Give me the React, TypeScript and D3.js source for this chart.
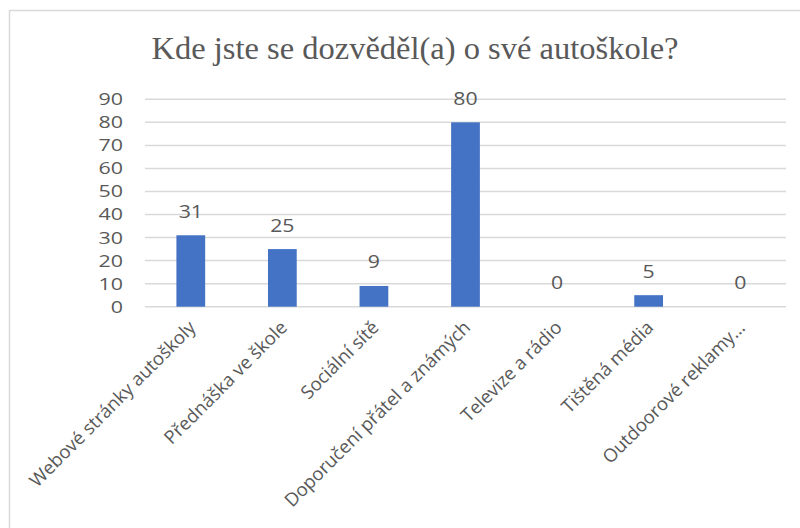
import React from "react";
import * as d3 from "d3";

const title = "Kde jste se dozvěděl(a) o své autoškole?";
const categories = [
  "Webové stránky autoškoly",
  "Přednáška ve škole",
  "Sociální sítě",
  "Doporučení přátel a známých",
  "Televize a rádio",
  "Tištěná média",
  "Outdoorové reklamy…",
];
const values = [31, 25, 9, 80, 0, 5, 0];
const yTicks = [0, 10, 20, 30, 40, 50, 60, 70, 80, 90];

const W = 800;
const H = 528;
const plotLeft = 145;
const plotRight = 786;
const plotTop = 99.3;
const plotBottom = 306.7;
const textColor = "#595959";
const gridColor = "#d9d9d9";
const barColor = "#4472C4";
const sans = "'Open Sans', 'Noto Sans', sans-serif";

export default function App() {
  const y = d3.scaleLinear().domain([0, 90]).range([plotBottom, plotTop]);
  const x = d3
    .scaleBand<string>()
    .domain(categories)
    .range([plotLeft, plotRight])
    .paddingInner(0.686)
    .paddingOuter(0.343);

  return (
    <svg
      width={W}
      height={H}
      style={{ position: "absolute", left: 0, top: 0, background: "#fff" }}
    >
      <rect x={9.5} y={10.5} width={820} height={560} fill="#fff" stroke={gridColor} strokeWidth={1.5} />
      <text
        x={415}
        y={59}
        textAnchor="middle"
        fontFamily="'Liberation Serif', 'Times New Roman', serif"
        fontSize={32.5}
        fill={textColor}
      >
        {title}
      </text>
      {yTicks.map((t) => (
        <g key={t}>
          <line x1={plotLeft} x2={plotRight} y1={y(t)} y2={y(t)} stroke={gridColor} strokeWidth={1.5} />
          <text
            transform={`translate(123,${y(t)}) scale(1.3,1)`}
            dy="0.36em"
            textAnchor="end"
            fontFamily={sans}
            fontSize={16.5}
            fill={textColor}
          >
            {t}
          </text>
        </g>
      ))}
      {categories.map((c, i) => {
        const v = values[i];
        const cx = (x(c) as number) + x.bandwidth() / 2;
        return (
          <g key={c}>
            {v > 0 && (
              <rect x={x(c)} y={y(v)} width={x.bandwidth()} height={y(0) - y(v)} fill={barColor} />
            )}
            <text
              transform={`translate(${cx},${y(v) - 17.5}) scale(1.15,1)`}
              textAnchor="middle"
              fontFamily={sans}
              fontSize={18.5}
              fill={textColor}
            >
              {v}
            </text>
            <text
              transform={`translate(${cx + 6},${plotBottom + 22}) rotate(-45)`}
              textAnchor="end"
              fontFamily={sans}
              fontSize={18.5}
              fill={textColor}
            >
              {c}
            </text>
          </g>
        );
      })}
    </svg>
  );
}
